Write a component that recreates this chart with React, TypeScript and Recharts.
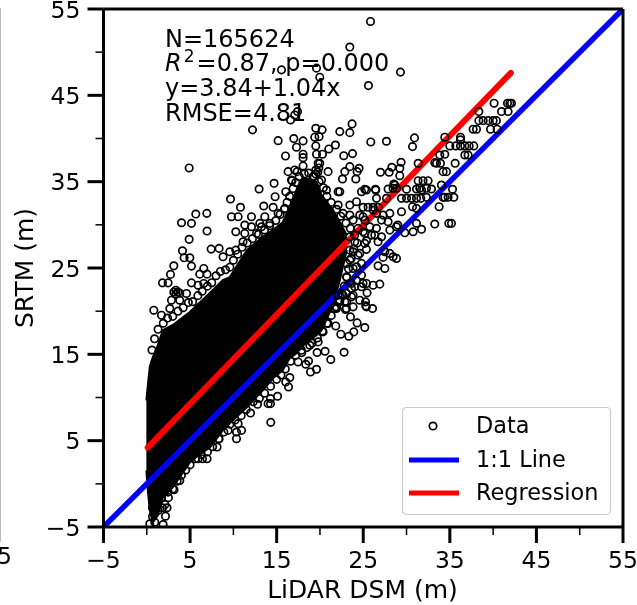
import React from 'react';
import { ComposedChart, Area, Scatter, Line, XAxis, YAxis, ReferenceLine, Legend } from 'recharts';

const FONT = '"DejaVu Sans", sans-serif';
const majorTicks = [-5, 5, 15, 25, 35, 45, 55];
const allTicks = [-5, 0, 5, 10, 15, 20, 25, 30, 35, 40, 45, 50, 55];
const statLines = ['N=165624', '=0.87, p=0.000', 'y=3.84+1.04x', 'RMSE=4.81'];
const legendNames = ['Data', '1:1 Line', 'Regression'];

// dense core of the cloud: [x, low, high]
const coreRows: [number, number, number][] = [
  [-0.05, 1.55, 9.67], [0.12, -0.77, 11.4], [0.35, -3.09, 13.6], [0.69, -4.48, 14.66], [1.27, -3.67, 16.05],
  [1.85, -1.58, 17.79], [3.0, -0.42, 18.4], [4.97, 2.48, 19.9], [5.78, 3.18, 20.7], [7.28, 4.22, 22.1],
  [8.78, 6.2, 23.6], [9.59, 7.0, 23.95], [11.55, 8.86, 27.07], [13.4, 10.83, 28.6], [14.55, 12.2, 29.4],
  [15.7, 13.15, 30.3], [16.5, 14.55, 32.06], [17.44, 15.24, 34.38], [18.0, 16.05, 35.5], [18.8, 16.6, 35.3],
  [19.6, 17.2, 34.96], [20.2, 17.8, 33.45], [21.5, 20.7, 31.7], [22.3, 23.6, 30.3], [23.1, 27.08, 28.8],
];

const outliers: [number, number][] = [
  [25.84,53.56],[23.45,50.59],[15.56,47.95],[19.6,48.15],[19.98,47.1],[29.3,47.69],[25.6,46.13],[17.41,43.12],[17.09,42.73],[16.6,42.15],
  [12.21,41.0],[19.52,41.19],[20.25,41.0],[23.71,41.69],[22.29,40.8],[23.45,40.68],[15.17,39.75],[16.98,39.99],[18.05,39.72],[19.4,40.15],
  [19.9,40.22],[25.87,39.6],[27.68,39.68],[30.92,40.07],[30.69,39.06],[21.79,39.25],[17.29,38.99],[19.52,39.14],[21.02,38.79],[19.6,38.18],
  [20.29,38.18],[16.02,37.98],[18.05,38.18],[18.05,37.78],[22.75,38.01],[23.76,38.25],[4.89,36.59],[18.05,36.82],[19.79,37.13],[29.37,37.25],
  [23.45,36.74],[24.52,36.55],[28.3,36.67],[29.22,36.55],[31.34,37.13],[16.32,36.16],[17.36,36.16],[20.94,36.16],[22.87,36.16],[24.29,36.16],
  [26.99,36.09],[27.99,36.09],[29.22,35.69],[22.6,35.31],[24.14,35.31],[16.71,35.19],[14.7,34.81],[12.97,34.15],[16.05,33.84],[26.45,34.03],
  [27.87,34.15],[9.67,32.99],[14.82,33.26],[22.29,33.84],[24.8,33.84],[25.37,34.03],[28.64,34.61],[5.66,31.25],[6.93,31.33],[4.01,30.24],
  [5.16,30.17],[6.96,29.28],[9.78,30.94],[10.55,30.94],[10.82,32.03],[12.09,30.94],[13.51,32.18],[14.59,32.03],[15.94,31.91],[10.28,29.2],
  [11.32,29.97],[4.89,28.32],[4.12,26.99],[4.31,26.18],[4.97,26.18],[7.43,27.19],[8.35,27.27],[3.12,25.25],[5.16,25.22],[2.74,24.26],
  [1.81,23.28],[2.46,23.28],[5.16,23.28],[6.58,24.95],[6.12,24.29],[6.96,24.29],[5.93,23.01],[6.58,23.21],[0.81,20.11],[2.66,20.31],
  [1.7,19.53],[3.81,21.27],[2.85,21.27],[4.59,22.05],[8.81,26.3],[10.28,27.07],[9.59,26.88],[11.12,28.04],[12.67,29.01],[11.32,29.01],
  [12.09,29.78],[13.05,30.17],[13.63,30.94],[13.25,29.78],[14.21,30.17],[15.17,31.33],[3.35,22.43],[3.58,22.2],[3.12,22.2],[3.81,22.09],
  [3.35,21.97],[17.09,36.36],[16.78,35.11],[19.98,37.13],[20.18,35.19],[20.75,34.03],[19.52,36.35],[19.75,36.12],[19.87,36.59],[19.52,35.89],
  [19.29,35.66],[34.42,40.15],[33.26,37.2],[33.92,37.13],[34.22,36.16],[34.61,36.16],[28.53,34.73],[26.41,34.12],[25.18,34.12],[22.1,33.84],
  [31.34,35.11],[31.91,35.11],[32.49,35.11],[32.88,34.15],[31.15,34.15],[31.73,34.03],[28.84,34.23],[26.53,33.07],[27.68,33.07],[29.42,33.07],
  [30.0,33.07],[30.57,33.07],[31.15,33.07],[31.65,33.07],[34.42,33.2],[34.22,33.19],[34.8,33.19],[35.46,33.19],[32.3,33.19],[24.98,32.03],
  [25.56,32.03],[26.14,32.03],[26.71,32.03],[23.45,32.29],[24.22,32.68],[22.1,32.29],[30.69,32.1],[31.15,31.91],[33.76,32.1],[24.6,31.13],
  [23.45,31.13],[22.67,31.33],[26.53,31.33],[27.29,31.13],[28.07,31.33],[29.42,31.52],[33.26,30.09],[34.88,30.17],[35.19,30.17],[31.15,30.17],
  [31.73,29.48],[30.76,29.2],[29.8,29.08],[28.84,29.78],[27.87,30.36],[26.53,29.59],[25.18,29.01],[25.95,28.81],[25.37,28.15],[25.37,27.16],
  [27.49,26.88],[28.07,26.69],[28.84,26.11],[27.29,26.23],[26.71,25.25],[27.49,24.95],[24.6,26.69],[23.83,26.88],[23.45,25.91],[24.22,25.14],
  [24.8,24.17],[25.37,23.21],[26.14,23.01],[26.91,23.13],[25.44,22.12],[23.64,23.21],[24.6,21.27],[25.26,21.08],[26.07,20.31],[23.06,20.31],
  [22.29,21.27],[23.64,21.66],[25.37,20.5],[25.29,20.61],[22.95,20.2],[23.53,19.34],[24.29,18.64],[25.18,18.11],[23.91,17.6],[23.33,17.1],
  [22.41,17.33],[21.83,18.29],[22.79,15.24],[21.25,14.4],[20.59,15.36],[19.67,15.21],[18.68,14.23],[18.36,13.85],[17.48,14.12],[19.6,13.27],
  [18.91,12.96],[16.52,12.31],[16.37,11.22],[16.05,11.8],[15.1,10.14],[14.29,9.87],[14.29,9.29],[14.01,9.29],[12.79,9.21],[11.98,8.2],
  [14.32,7.12],[10.36,5.23],[10.36,6.0],[10.94,6.19],[10.55,6.97],[9.39,6.19],[8.35,5.23],[8.12,4.26],[6.96,2.91],[6.43,2.91],
  [5.93,2.91],[3.81,0.39],[3.15,-0.68],[2.46,-0.96],[1.7,-1.54],[2.34,-2.77],[1.81,-2.77],[0.66,-2.77],[2.16,-3.75],[0.66,-3.78],
  [1.31,-3.09],[0.92,-4.44],[1.88,-4.71],[0.35,-4.63],[40.11,44.09],[41.66,44.09],[41.93,44.09],[42.12,44.09],[38.35,43.12],[40.97,43.12],
  [41.73,43.12],[38.35,42.07],[38.85,42.07],[39.43,42.07],[40.0,42.07],[40.38,42.07],[37.69,41.08],[38.08,41.08],[39.7,41.08],[40.46,41.08],
  [36.23,40.15],[36.23,39.84],[35.0,39.14],[35.69,39.14],[36.23,39.14],[36.73,39.14],[37.23,39.14],[37.77,39.14],[36.73,38.09],[37.11,38.09],
  [34.42,38.17],[33.84,38.09],[33.46,37.13],[35.61,37.13],[34.03,34.61],[35.31,34.12],[30.0,34.12],[28.45,34.23],[31.53,34.23],[32.3,34.23],
  [28.07,29.39],[28.99,29.97],[27.11,28.62],[26.71,28.04],[28.45,26.3],
];

// fringe of overlapping rings along the cloud's edge
const fringe: [number, number][] = [
  [0.6,15.5],[0.9,16.8],[1.3,17.9],[1.9,18.6],[2.4,19.2],[3.0,19.4],[3.6,20.0],[4.2,20.4],[4.8,21.0],[5.3,21.1],[5.9,21.8],[6.4,22.3],[7.0,22.9],[7.5,23.3],
  [8.0,24.1],[8.5,24.6],[9.1,24.8],[9.6,25.1],[10.0,25.9],[10.5,26.6],[11.0,27.4],[11.6,27.9],[12.2,28.4],[12.9,28.9],[13.6,29.4],[14.2,29.9],[14.9,30.5],[15.4,31.2],
  [15.9,31.8],[16.2,32.6],[16.5,33.3],[16.9,34.2],[17.2,34.9],[17.6,35.6],[18.2,35.9],[18.7,36.0],[19.2,35.6],[19.9,35.0],[20.4,34.3],[20.8,33.3],[21.3,32.6],[21.9,31.8],
  [22.4,31.0],[23.0,30.2],[23.5,29.6],[24.0,28.8],[24.3,27.9],[23.9,27.2],[23.6,26.1],[23.3,24.9],[23.1,23.9],[22.8,22.9],[22.5,22.0],[22.1,21.2],[21.7,20.3],[21.3,19.5],
  [20.8,18.6],[20.3,17.7],[19.7,16.9],[19.1,16.3],[18.5,15.8],[17.9,15.2],[17.2,14.9],[16.6,14.2],[16.0,13.3],[15.5,12.6],[15.0,12.1],[14.3,11.3],[13.6,10.5],[13.0,9.9],
  [12.3,9.5],[11.5,8.6],[10.9,7.9],[10.2,7.4],[9.6,6.9],[8.9,6.0],[8.3,5.2],[7.6,4.3],[7.0,3.7],[6.3,3.4],[5.6,2.9],[5.0,2.2],[4.5,1.6],[4.0,1.0],[3.5,0.3],[3.0,-0.6],[2.5,-1.6],[2.1,-2.4],
  [23.83,30.55],[24.4,29.59],[23.45,28.62],[24.02,28.04],[24.98,29.2],[25.76,29.78],[25.18,27.85],[23.45,27.07],[24.4,26.49],[23.07,25.53],[23.83,24.95],[24.8,25.53],[23.07,23.98],
  [24.22,23.59],[23.64,22.63],[23.07,22.05],[24.8,22.82],[22.87,21.08],[23.83,20.5],[21.91,20.5],[22.1,21.85],[25.18,30.55],[26.33,28.81],[27.11,30.55],[26.14,31.71],[24.98,30.94],
  [20.94,18.57],[20.36,17.6],[19.79,16.44],[18.83,16.05],[17.87,15.47],[22.29,21.08],[22.67,21.85],[23.83,21.85],[23.07,21.08],[21.91,20.31],[24.02,22.82],[24.98,23.21],
];

const coreData = coreRows.map(([x, low, high]) => ({ x, band: [low, high] }));
const scatterData = [...outliers, ...fringe].map(([x, y]) => ({ x, y }));
const identityData = [{ x: -5, y: -5 }, { x: 55, y: 55 }];
const regressionData = [{ x: 0.1, y: 4.2 }, { x: 42.05, y: 47.6 }];

const Ring = (props: any) => <circle cx={props.cx} cy={props.cy} r={3.7} fill="none" stroke="#000" strokeWidth={1.7} />;

const XTick = ({ x, y, payload }: any) => {
  const major = majorTicks.includes(payload.value);
  return (
    <g>
      <line x1={x} x2={x} y1={y} y2={y + (major ? 16 : 8)} stroke="#000" strokeWidth={major ? 3 : 1.5} />
      {major && <text x={x} y={y + 40.5} textAnchor="middle" fontSize={23.5} fontFamily={FONT} fill="#000">{String(payload.value).replace('-', '\u2212')}</text>}
    </g>
  );
};
const YTick = ({ x, y, payload }: any) => {
  const major = majorTicks.includes(payload.value);
  return (
    <g>
      <line x1={x} x2={x - (major ? 16 : 8)} y1={y} y2={y} stroke="#000" strokeWidth={major ? 3 : 1.5} />
      {major && <text x={x - 23} y={y + 8.5} textAnchor="end" fontSize={23.5} fontFamily={FONT} fill="#000">{String(payload.value).replace('-', '\u2212')}</text>}
    </g>
  );
};

const LegendBox = () => (
  <svg width={210} height={110} style={{ display: 'block' }}>
    <rect x={0.5} y={0.5} width={208} height={107} rx={4} fill="#fff" fillOpacity={0.8} stroke="#ccc" strokeWidth={1.2} />
    <circle cx={31} cy={19} r={3.7} fill="none" stroke="#000" strokeWidth={1.7} />
    <line x1={7} x2={57} y1={53} y2={53} stroke="#0000ff" strokeWidth={5} />
    <line x1={7} x2={57} y1={86} y2={86} stroke="#ff0000" strokeWidth={5} />
    {legendNames.map((n, i) => (
      <text key={n} x={74} y={26 + i * 33.5} fontSize={22.4} fontFamily={FONT} fill="#000">{n}</text>
    ))}
  </svg>
);

export default function App() {
  return (
    <div style={{ position: 'absolute', left: 0, top: 0, width: 637, height: 605, overflow: 'hidden', background: '#fff', filter: 'blur(0.45px)' }}>
      <div style={{ position: 'absolute', left: 0, top: 8, width: 1, height: 534, background: '#bbb' }} />
      <div style={{ position: 'absolute', left: -3, top: 539, fontFamily: FONT, fontSize: 23.5, lineHeight: '34px' }}>5</div>
      <ComposedChart width={637} height={605} data={coreData} margin={{ top: 9, right: 14, bottom: 0, left: 0 }}>
        <XAxis dataKey="x" type="number" domain={[-5, 55]} ticks={allTicks} interval={0} height={78} tickLine={false} tick={<XTick />} axisLine={{ stroke: '#000', strokeWidth: 3 }} tickSize={0} tickMargin={0} allowDataOverflow />
        <YAxis type="number" domain={[-5, 55]} ticks={allTicks} interval={0} width={103.5} tickLine={false} tick={<YTick />} axisLine={{ stroke: '#000', strokeWidth: 3 }} tickSize={0} tickMargin={0} allowDataOverflow />
        <Area dataKey="band" type="linear" stroke="#000" strokeWidth={2} fill="#000" fillOpacity={1} isAnimationActive={false} legendType="none" dot={false} activeDot={false} />
        <Scatter name="Data" data={scatterData} dataKey="y" shape={<Ring />} isAnimationActive={false} />
        <Line name="1:1 Line" data={identityData} dataKey="y" stroke="#0000ff" strokeWidth={5.5} dot={false} activeDot={false} isAnimationActive={false} />
        <Line name="Regression" data={regressionData} dataKey="y" stroke="#ff0000" strokeWidth={6} strokeLinecap="round" dot={false} activeDot={false} isAnimationActive={false} />
        <ReferenceLine x={55} stroke="#000" strokeWidth={3} />
        <ReferenceLine y={55} stroke="#000" strokeWidth={3} />
        <Legend layout="vertical" align="center" verticalAlign="middle" content={<LegendBox />} wrapperStyle={{ left: 402, top: 407, width: 210, height: 110 }} />
        <g fontFamily={FONT} fontSize={24} fill="#000">
          <text x={165} y={46.7}>{statLines[0]}</text>
          <text x={165} y={71}>
            <tspan fontStyle="italic">R</tspan>
            <tspan dx={2} dy={-9} fontSize={17}>2</tspan>
            <tspan dx={2} dy={9}>{statLines[1]}</tspan>
          </text>
          <text x={165} y={96}>{statLines[2]}</text>
          <text x={165} y={120.7}>{statLines[3]}</text>
        </g>
        <text x={362.5} y={598} textAnchor="middle" fontFamily={FONT} fontSize={25} fill="#000">LiDAR DSM (m)</text>
        <text transform="translate(33 268) rotate(-90)" textAnchor="middle" fontFamily={FONT} fontSize={25} fill="#000">SRTM (m)</text>
      </ComposedChart>
    </div>
  );
}
